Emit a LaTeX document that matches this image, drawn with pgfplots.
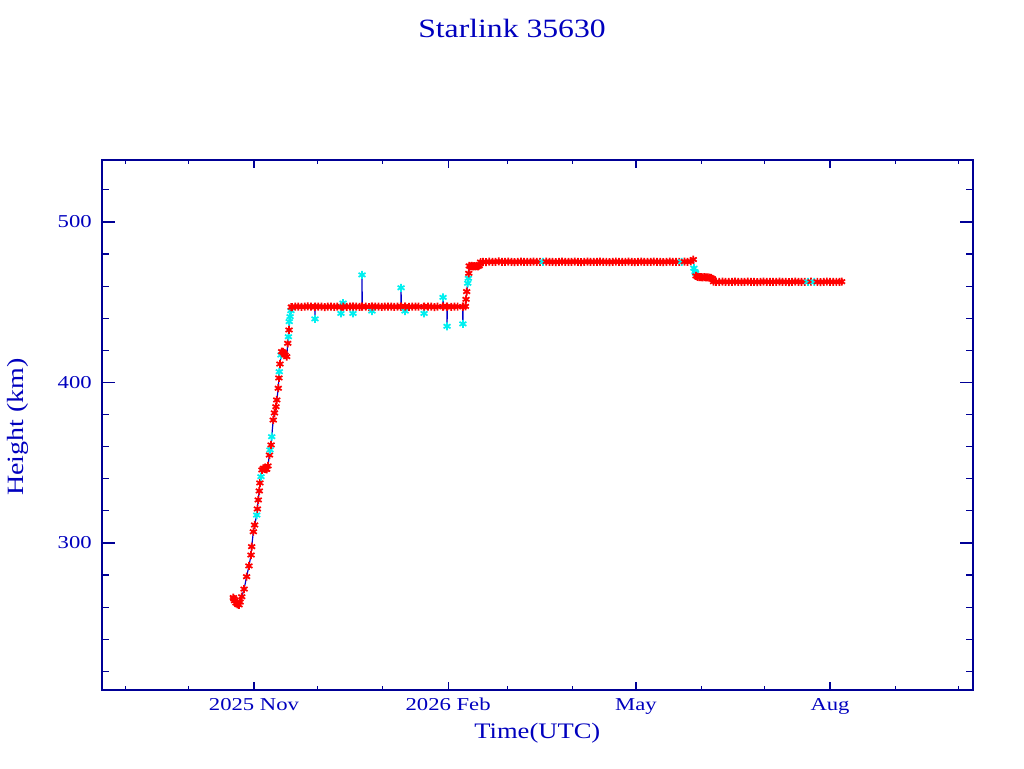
\documentclass[border=0pt]{standalone}
\usepackage{pgfplots}
\usepackage{pgfplotstable}
\pgfplotsset{compat=1.18}
\usepackage{fontspec}
\setmainfont{Liberation Serif}[FakeStretch=1.2]
\newfontfamily\tickfont{Liberation Serif}[FakeStretch=1.25]
\definecolor{axiscol}{RGB}{0,0,150}
\definecolor{txtcol}{RGB}{0,0,190}
\definecolor{linecol}{RGB}{0,0,200}
\definecolor{cyanm}{RGB}{0,240,240}
\definecolor{redm}{RGB}{255,0,0}

\pgfplotstableread[row sep=\\]{
x y c\\
-9.8 266.0 a\\ -9.5 265.1 a\\ -9.2 264.0 a\\ -8.5 262.6 a\\ -7.8 261.8 a\\ -7.1 261.4 a\\ -6.6 263.2 a\\ -5.8 266.5 a\\
-4.7 271.3 a\\ -3.5 279.0 a\\ -2.4 285.7 a\\ -1.4 292.5 a\\ -1.1 297.7 a\\ -0.3 307.0 a\\ 0.3 311.2 a\\
1.3 317.4 b\\ 1.6 321.2 a\\ 2.0 326.8 a\\ 2.5 332.4 a\\ 2.8 337.4 a\\ 3.3 341.3 b\\ 3.8 345.5 a\\
4.4 346.5 a\\ 4.8 346.4 a\\ 5.2 346.1 a\\ 5.6 346.0 a\\ 6.0 345.9 a\\ 6.6 348.0 a\\ 7.3 354.8 a\\
7.6 358.0 b\\ 8.1 361.1 a\\ 8.4 366.2 b\\ 9.1 376.6 a\\ 9.7 381.0 a\\ 10.4 384.9 a\\ 10.8 389.1 a\\
11.5 396.4 a\\ 11.8 402.8 a\\ 12.0 406.7 b\\ 12.3 411.5 a\\ 12.8 417.1 b\\ 13.1 419.2 a\\ 13.7 419.0 a\\
14.2 418.2 a\\ 14.7 417.1 a\\ 15.5 416.1 a\\ 16.0 424.4 a\\ 16.3 428.5 b\\ 16.6 432.7 a\\ 16.7 437.9 b\\
17.1 441.0 b\\ 17.5 444.7 b\\ 17.7 447.0 a\\
18.0 447.0 a\\ 19.5 447.2 a\\ 21.0 447.3 a\\ 22.5 447.1 a\\ 24.0 447.2 a\\ 25.5 447.4 a\\ 27.0 447.2 a\\
28.8 447.1 a\\ 28.9 439.6 b\\ 29.0 447.2 a\\ 30.5 447.3 a\\ 32.0 447.2 a\\ 33.5 447.0 a\\ 35.0 447.2 a\\
36.5 447.3 a\\ 38.0 447.1 a\\ 39.5 447.2 a\\ 41.1 447.2 a\\ 41.2 443.0 b\\ 41.3 447.3 a\\ 42.1 447.2 a\\ 42.2 449.5 b\\
42.3 447.2 a\\ 44.0 447.1 a\\ 45.5 447.3 a\\ 46.8 447.2 a\\ 46.9 443.0 b\\ 47.0 447.2 a\\ 48.5 447.2 a\\ 50.0 447.1 a\\
51.1 447.3 a\\ 51.2 467.0 b\\ 51.3 447.2 a\\ 53.0 447.2 a\\ 54.5 447.0 a\\ 55.8 447.2 a\\ 55.9 444.5 b\\ 56.0 447.2 a\\
57.5 447.3 a\\ 59.0 447.2 a\\ 60.5 447.1 a\\ 62.0 447.2 a\\ 63.5 447.3 a\\ 65.0 447.2 a\\ 66.5 447.1 a\\
68.0 447.2 a\\ 69.6 447.3 a\\ 69.7 459.0 b\\ 69.8 447.2 a\\ 71.5 447.2 a\\ 71.6 444.5 b\\ 71.7 447.2 a\\ 73.5 447.1 a\\
75.0 447.2 a\\ 76.5 447.3 a\\ 78.0 447.2 a\\ 80.5 447.1 a\\ 80.6 443.0 b\\ 80.7 447.2 a\\ 82.5 447.3 a\\
84.0 447.2 a\\ 85.5 447.0 a\\ 87.0 447.2 a\\ 89.5 447.3 a\\ 89.6 453.0 b\\ 89.7 447.2 a\\ 91.4 447.2 a\\ 91.5 435.0 b\\
91.6 447.2 a\\ 93.5 447.1 a\\ 95.0 447.3 a\\ 96.5 447.2 a\\ 98.9 447.2 a\\ 99.0 436.5 b\\ 99.1 447.2 a\\
100.2 447.4 a\\ 100.5 451.8 a\\ 100.8 456.6 a\\ 101.3 461.8 b\\ 101.6 464.9 b\\ 101.8 468.0 a\\ 102.0 472.6 a\\
102.6 472.4 a\\ 103.2 472.6 a\\ 103.8 472.3 a\\ 104.4 472.5 a\\ 105.0 472.4 a\\ 105.6 472.6 a\\ 106.2 472.3 a\\
106.8 472.8 a\\ 107.4 475.0 a\\
108.5 475.2 a\\ 110.0 475.0 a\\ 111.5 475.3 a\\ 113.0 475.1 a\\ 114.5 475.2 a\\ 116.0 475.4 a\\ 117.5 475.2 a\\
119.0 475.1 a\\ 120.5 475.3 a\\ 122.0 475.2 a\\ 123.5 475.0 a\\ 125.0 475.2 a\\ 126.5 475.3 a\\ 128.0 475.1 a\\
129.5 475.2 a\\ 131.0 475.2 a\\ 132.5 475.3 a\\ 134.0 475.1 a\\ 135.5 475.2 a\\ 137.0 475.2 b\\ 138.5 475.3 a\\
140.0 475.1 a\\ 141.5 475.2 a\\ 143.0 475.0 a\\ 144.5 475.2 a\\ 146.0 475.3 a\\ 147.5 475.2 a\\ 149.0 475.1 a\\
150.5 475.2 a\\ 152.0 475.3 a\\ 153.5 475.2 a\\ 155.0 475.0 a\\ 156.5 475.2 a\\ 158.0 475.3 a\\ 159.5 475.1 a\\
161.0 475.2 a\\ 162.5 475.2 a\\ 164.0 475.3 a\\ 165.5 475.1 a\\ 167.0 475.2 a\\ 168.5 475.0 a\\ 170.0 475.2 a\\
171.5 475.3 a\\ 173.0 475.2 a\\ 174.5 475.1 a\\ 176.0 475.2 a\\ 177.5 475.3 a\\ 179.0 475.2 a\\ 180.5 475.0 a\\
182.0 475.2 a\\ 183.5 475.3 a\\ 185.0 475.1 a\\ 186.5 475.2 a\\ 188.0 475.2 a\\ 189.5 475.3 a\\ 191.0 475.1 a\\
192.5 475.2 a\\ 194.0 475.0 a\\ 195.5 475.2 a\\ 197.0 475.3 a\\ 198.5 475.2 a\\ 200.0 475.1 a\\ 201.5 475.2 a\\
202.7 475.2 b\\ 204.0 475.3 a\\ 205.5 475.2 a\\ 207.0 475.4 a\\
208.2 476.6 a\\ 208.5 471.2 b\\ 209.0 469.0 b\\ 209.3 468.0 b\\ 209.5 466.4 a\\ 210.2 465.8 a\\ 211.0 465.6 a\\
211.8 465.7 a\\ 212.6 465.5 a\\ 213.4 465.6 a\\ 214.2 465.4 a\\ 215.0 465.5 a\\ 215.8 465.3 a\\ 216.6 465.2 a\\
217.3 464.6 a\\ 217.8 462.8 a\\
219.0 462.7 a\\ 220.5 462.6 a\\ 222.0 462.8 a\\ 223.5 462.7 a\\ 225.0 462.6 a\\ 226.5 462.7 a\\ 228.0 462.8 a\\
229.5 462.6 a\\ 231.0 462.7 a\\ 232.5 462.7 a\\ 234.0 462.8 a\\ 235.5 462.6 a\\ 237.0 462.7 a\\ 238.5 462.5 a\\
240.0 462.7 a\\ 241.5 462.8 a\\ 243.0 462.7 a\\ 244.5 462.6 a\\ 246.0 462.7 a\\ 247.5 462.7 a\\ 249.0 462.8 a\\
250.5 462.6 a\\ 252.0 462.7 a\\ 253.5 462.5 a\\ 255.0 462.7 a\\ 256.5 462.8 a\\ 258.0 462.7 a\\ 259.5 462.6 a\\
261.0 462.7 a\\ 262.5 462.7 b\\ 264.0 462.8 a\\ 265.5 462.6 b\\ 267.0 462.7 a\\ 268.5 462.5 a\\ 270.0 462.7 a\\
271.5 462.8 a\\ 273.0 462.7 a\\ 274.5 462.6 a\\ 276.0 462.7 a\\ 277.5 462.7 a\\ 278.5 462.8 a\\
}\data

\begin{document}
\begin{tikzpicture}
\useasboundingbox (0,0) rectangle (768pt,576pt);
\begin{axis}[
  at={(76.5pt,58.5pt)}, anchor=south west,
  width=653.25pt, height=397.5pt, scale only axis,
  xmin=-72.04, xmax=340.76, ymin=208.4, ymax=538.6,
  xtick={0,92,181,273},
  xticklabels={2025 Nov,2026 Feb,May,Aug},
  minor xtick={-61,-31,30,61,120,151,212,242,304,334},
  ytick={300,400,500},
  minor ytick={220,240,...,520},
  tick align=inside,
  axis line style={draw=axiscol, line width=0.9pt},
  every tick/.style={draw=axiscol, line width=0.9pt},
  xtick style={/pgfplots/major tick length=6pt, /pgfplots/minor tick length=3pt},
  ytick style={/pgfplots/major tick length=9.75pt, /pgfplots/minor tick length=5pt},
  /pgf/number format/assume math mode=true,
  xticklabel style={font=\tickfont\fontsize{13.6}{15}\selectfont, text=txtcol, anchor=base, yshift=-15pt, inner sep=0pt},
  yticklabel style={font=\tickfont\fontsize{13.6}{15}\selectfont, text=txtcol, anchor=east, xshift=-7.5pt, inner sep=0pt},
  clip=true,
]
\addplot[draw=linecol, line width=0.9pt, no marks] table[x=x,y=y] {\data};
\addplot[scatter, only marks, mark size=3pt,
  scatter src=explicit symbolic,
  scatter/classes={
    a={mark=asterisk, draw=redm, line width=1.3pt},
    b={mark=asterisk, draw=cyanm, line width=1.3pt}}]
  table[x=x,y=y,meta=c] {\data};
\end{axis}
\node[anchor=base, text=txtcol, font=\fontsize{19.8}{22}\selectfont] at (384pt,547.5pt) {Starlink 35630};
\node[anchor=base, text=txtcol, font=\fontsize{16.6}{20}\selectfont] at (403pt,22.5pt) {Time(UTC)};
\node[anchor=base, rotate=90, text=txtcol, font=\fontsize{17.5}{20}\selectfont] at (17.25pt,255.75pt) {Height (km)};
\end{tikzpicture}
\end{document}
